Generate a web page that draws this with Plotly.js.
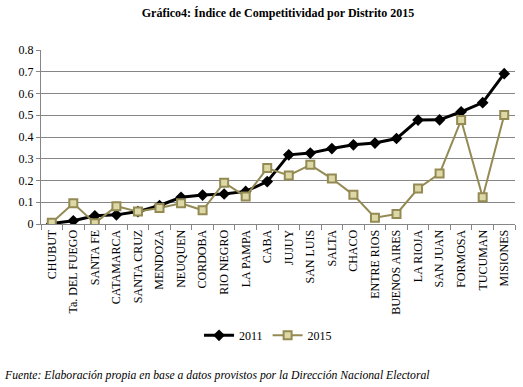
<!DOCTYPE html>
<html>
<head>
<meta charset="utf-8">
<script src="https://cdn.plot.ly/plotly-3.0.1.min.js"></script>
<style>html,body{margin:0;padding:0;background:#fff;}#chart{width:523px;height:387px;}</style>
</head>
<body>
<div id="chart"></div>
<script>
const districts = ["CHUBUT","Ta. DEL FUEGO","SANTA FE","CATAMARCA","SANTA CRUZ","MENDOZA","NEUQUEN","CORDOBA","RIO NEGRO","LA PAMPA","CABA","JUJUY","SAN LUIS","SALTA","CHACO","ENTRE RIOS","BUENOS AIRES","LA RIOJA","SAN JUAN","FORMOSA","TUCUMAN","MISIONES"];
const values2011 = [0.002,0.015,0.038,0.042,0.057,0.085,0.123,0.133,0.138,0.150,0.195,0.318,0.326,0.347,0.364,0.372,0.393,0.478,0.479,0.516,0.558,0.691];
const values2015 = [0.006,0.095,0.004,0.082,0.057,0.074,0.095,0.063,0.190,0.126,0.257,0.223,0.272,0.209,0.134,0.029,0.046,0.163,0.232,0.478,0.123,0.501];
const yTicks = [0,0.1,0.2,0.3,0.4,0.5,0.6,0.7,0.8];
const yTickText = ["0","0.1","0.2","0.3","0.4","0.5","0.6","0.7","0.8"];

const serif = "'Liberation Serif', 'Times New Roman', serif";
const traces = [
  {x: districts, y: values2011, name: "2011", type: "scatter", mode: "lines+markers",
   line: {color: "#000000", width: 3},
   marker: {symbol: "diamond", size: 9, color: "#000000"}},
  {x: districts, y: values2015, name: "2015", type: "scatter", mode: "lines+markers",
   line: {color: "#948A54", width: 2},
   marker: {symbol: "square", size: 8, color: "#DDD9A6", line: {color: "#948A54", width: 2}}}
];
const layout = {
  width: 523, height: 387,
  margin: {l: 41, r: 8, t: 50, b: 163},
  paper_bgcolor: "#ffffff", plot_bgcolor: "#ffffff",
  font: {family: serif, size: 12, color: "#000"},
  title: {text: "<b>Gráfico4: Índice de Competitividad por Distrito 2015</b>",
          font: {family: serif, size: 12, color: "#000"},
          x: 0.5, xanchor: "center", y: 0.966, yanchor: "middle", xref: "paper"},
  xaxis: {type: "category", range: [-0.5, districts.length - 0.5], tickangle: -90,
          tickson: "boundaries", ticks: "outside",
          ticklen: 5, tickcolor: "#868686", showline: true, linecolor: "#868686",
          showgrid: false, automargin: false, tickfont: {family: serif, size: 12, color: "#000"}, fixedrange: true},
  yaxis: {range: [0, 0.8], tickvals: yTicks, ticktext: yTickText, showgrid: true,
          gridcolor: "#868686", gridwidth: 1, showline: true, linecolor: "#868686",
          ticks: "outside", ticklen: 4, tickcolor: "#868686", zeroline: false, automargin: false,
          tickfont: {family: serif, size: 12, color: "#000"}, fixedrange: true},
  showlegend: true,
  legend: {orientation: "h", x: 0.479, xanchor: "center", y: -0.64, yanchor: "middle",
           font: {family: serif, size: 12, color: "#000"}, itemwidth: 30},
  annotations: [{
    text: "<i>Fuente: Elaboración propia en base a datos provistos por la Dirección Nacional Electoral</i>",
    xref: "paper", yref: "paper", x: -0.082, y: -0.868, xanchor: "left", yanchor: "middle",
    showarrow: false, font: {family: serif, size: 11.7, color: "#000"}
  }]
};
Plotly.newPlot("chart", traces, layout, {displayModeBar: false, staticPlot: true});
</script>
</body>
</html>
